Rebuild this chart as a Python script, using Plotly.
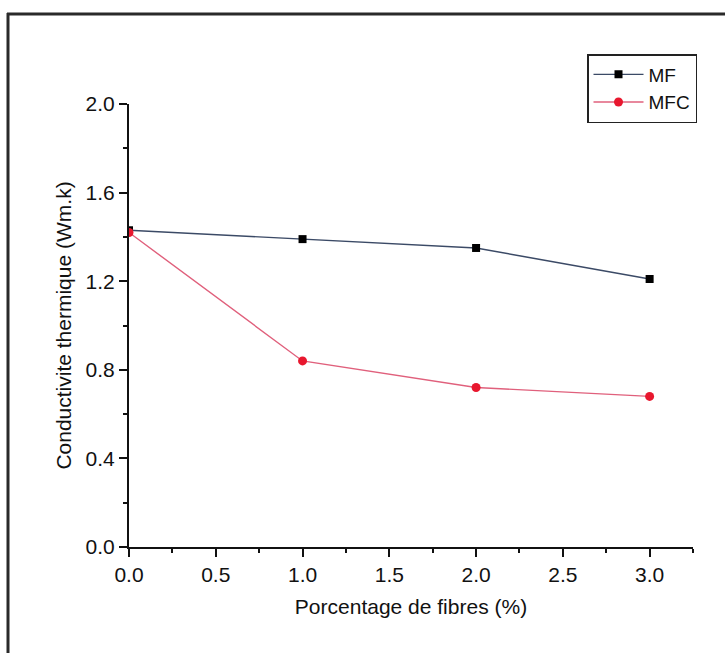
import plotly.graph_objects as go

# Fibre content (%) and thermal conductivity for the two mixes
fibre_pct = [0.0, 1.0, 2.0, 3.0]
mf_values = [1.43, 1.39, 1.35, 1.21]
mfc_values = [1.42, 0.84, 0.72, 0.68]

x_ticks = [0.0, 0.5, 1.0, 1.5, 2.0, 2.5, 3.0]
y_ticks = [0.0, 0.4, 0.8, 1.2, 1.6, 2.0]

W, H = 725, 653
ML, MR, MT, MB = 129, 32, 104, 106
FONT = "Liberation Sans, Arial, sans-serif"

fig = go.Figure()
fig.add_trace(go.Scatter(
    x=fibre_pct, y=mf_values, mode="lines+markers", name="MF",
    line=dict(color="#3b4a66", width=1.4),
    marker=dict(symbol="square", size=8, color="#000000"),
))
fig.add_trace(go.Scatter(
    x=fibre_pct, y=mfc_values, mode="lines+markers", name="MFC",
    line=dict(color="#e0607c", width=1.4),
    marker=dict(symbol="circle", size=9, color="#e8172e"),
))

# Pixel -> paper helpers for the surrounding frame
pw, ph = W - ML - MR, H - MT - MB
def px(xp):
    return (xp - ML) / pw
def py(yp):
    return (H - MB - yp) / ph

frame = "#2a2a2a"
shapes = [
    dict(type="line", xref="paper", yref="paper", x0=px(7), x1=px(W), y0=py(14), y1=py(14),
         line=dict(color=frame, width=3)),
    dict(type="line", xref="paper", yref="paper", x0=px(8), x1=px(8), y0=py(13), y1=py(H),
         line=dict(color=frame, width=3)),
]

fig.update_layout(
    width=W, height=H,
    margin=dict(l=ML, r=MR, t=MT, b=MB),
    paper_bgcolor="white", plot_bgcolor="white",
    font=dict(family=FONT, color="#111111", size=21),
    showlegend=True,
    legend=dict(
        x=px(587), y=py(54), xanchor="left", yanchor="top",
        bordercolor="#222222", borderwidth=1.5, bgcolor="white",
        font=dict(size=19), itemwidth=50, tracegroupgap=0,
    ),
    shapes=shapes,
    xaxis=dict(
        range=[0, 3.25], tickvals=x_ticks, ticktext=[f"{v:.1f}" for v in x_ticks],
        showline=True, linecolor="#111111", linewidth=2, mirror=False,
        ticks="outside", ticklen=8, tickwidth=2, tickcolor="#111111",
        minor=dict(dtick=0.25, tick0=0, ticks="outside", ticklen=4, tickwidth=2, tickcolor="#111111"),
        showgrid=False, zeroline=False,
        tickfont=dict(size=21),
        title=dict(text="Porcentage de fibres (%)", font=dict(size=21), standoff=14),
    ),
    yaxis=dict(
        range=[0, 2.0], tickvals=y_ticks, ticktext=[f"{v:.1f}" for v in y_ticks],
        showline=True, linecolor="#111111", linewidth=2, mirror=False,
        ticks="outside", ticklen=8, tickwidth=2, tickcolor="#111111",
        minor=dict(dtick=0.2, tick0=0, ticks="outside", ticklen=4, tickwidth=2, tickcolor="#111111"),
        showgrid=False, zeroline=False,
        tickfont=dict(size=21),
        title=dict(text="Conductivite thermique (Wm.k)", font=dict(size=21), standoff=8),
    ),
)

fig.write_html("out.html")
